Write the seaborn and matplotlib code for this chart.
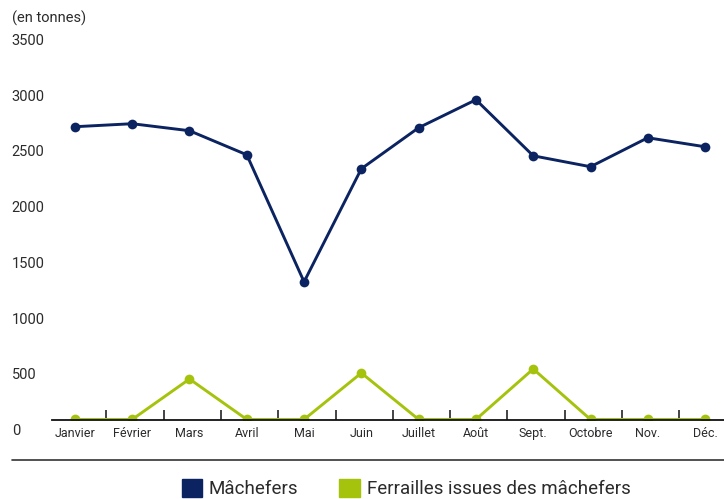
import numpy as np
import pandas as pd
import seaborn as sn
import matplotlib.pyplot as plt
import matplotlib.transforms as mtrans
from matplotlib.lines import Line2D
from matplotlib.patches import Patch

mois = ["Janvier", "Février", "Mars", "Avril", "Mai", "Juin", "Juillet",
        "Août", "Sept.", "Octobre", "Nov.", "Déc."]
machefers = [2632, 2659, 2596, 2380, 1240, 2255, 2623, 2874, 2371, 2273, 2533, 2452]
ferrailles = [5, 5, 368, 5, 5, 422, 5, 5, 458, 5, 5, 5]
yticks = [0, 500, 1000, 1500, 2000, 2500, 3000, 3500]

navy = "#0b2360"
green = "#a5c30c"
txt = "#2b2b2b"

sn.set_style("white")
plt.rcParams['font.family'] = ['Roboto', 'DejaVu Sans']

df = pd.DataFrame({'mois': np.arange(len(mois)),
                   'Mâchefers': machefers,
                   'Ferrailles issues des mâchefers': ferrailles})

W, H = 724, 499
fig = plt.figure(figsize=(W / 100, H / 100), dpi=100)
ax = fig.add_axes([52 / W, (H - 420) / H, 1 - 52 / W, (420 - 30) / H])

sn.lineplot(data=df, x='mois', y='Ferrailles issues des mâchefers', ax=ax,
            color=green, lw=2.1, marker='o', markersize=7, markeredgewidth=0)
sn.lineplot(data=df, x='mois', y='Mâchefers', ax=ax,
            color=navy, lw=2.1, marker='o', markersize=7, markeredgewidth=0)

ax.set_xlim(-0.40, 11.33)
ax.set_ylim(0, 3500)
for s in ['top', 'right', 'left']:
    ax.spines[s].set_visible(False)
ax.spines['bottom'].set_color('#111111')
ax.spines['bottom'].set_linewidth(1.3)
ax.set_xlabel("")
ax.set_ylabel("")

ax.set_xticks(np.arange(len(mois)))
ax.set_xticklabels(mois, fontsize=9, color=txt)
ax.set_xticks(np.arange(len(mois) - 1) + 0.55, minor=True)
ax.tick_params(axis='x', which='major', length=0, pad=5)
ax.tick_params(axis='x', which='minor', direction='in', length=7,
               width=1.1, color='#111111', bottom=True)

ax.set_yticks(yticks)
ax.set_yticklabels([str(v) for v in yticks], fontsize=10.5, color=txt,
                   ha='left', va='top')
ax.tick_params(axis='y', length=0, pad=29)
shift = mtrans.ScaledTranslation(0, -4 / 100, fig.dpi_scale_trans)
for lab in ax.get_yticklabels():
    lab.set_transform(lab.get_transform() + shift)

fig.text(12 / W, 1 - 18 / H, "(en tonnes)", fontsize=10.5, color=txt,
         ha='left', va='center')

fig.add_artist(Line2D([12 / W, 1], [1 - 460 / H, 1 - 460 / H],
                      color='#333333', lw=1.2))

handles = [Patch(color=navy), Patch(color=green)]
fig.legend(handles, ['Mâchefers', 'Ferrailles issues des mâchefers'],
           loc='upper left', bbox_to_anchor=(174 / W, 1 - 471 / H), ncol=2,
           frameon=False, fontsize=13.5, handlelength=1.1, handleheight=1.1,
           handletextpad=0.35, columnspacing=2.2, labelcolor=txt,
           borderaxespad=0)

plt.savefig("out.png", dpi=100)
